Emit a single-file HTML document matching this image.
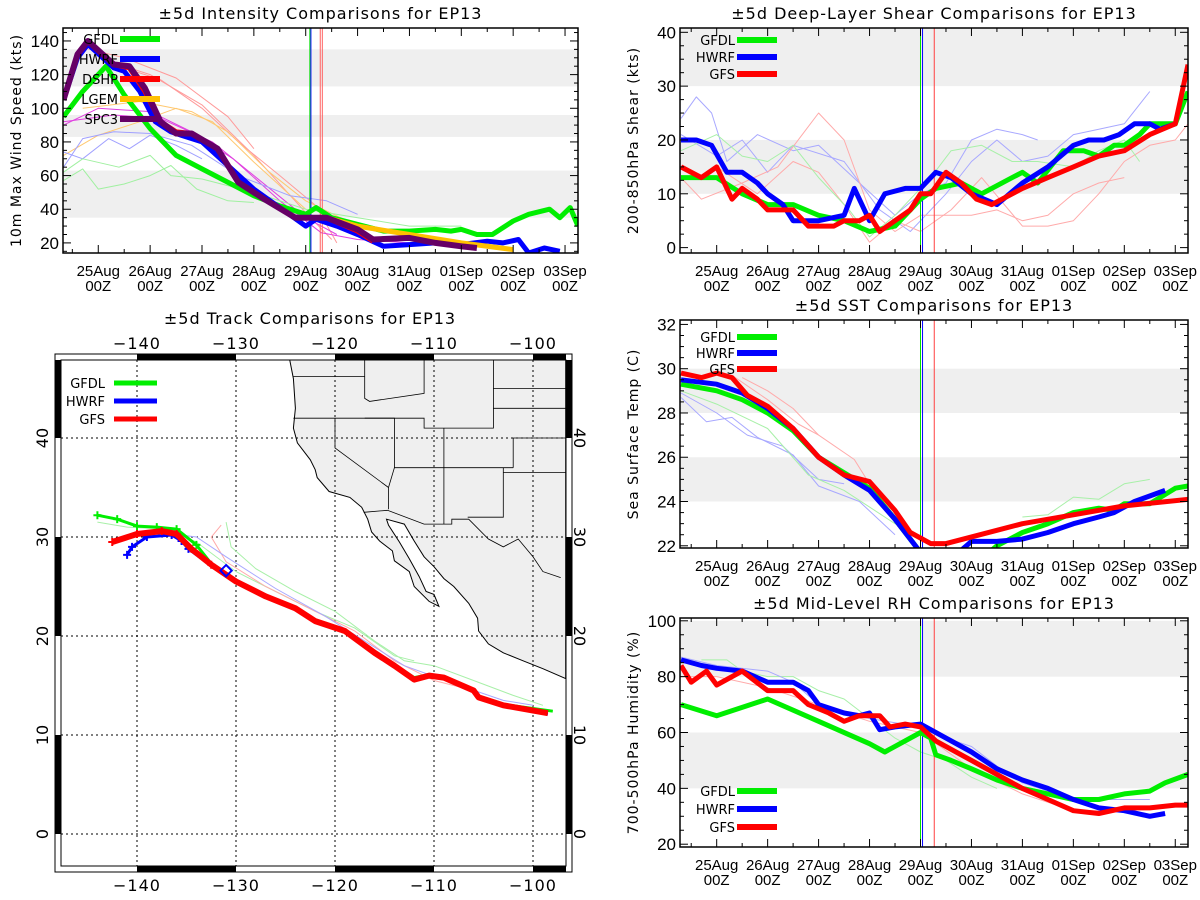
<!DOCTYPE html>
<html><head><meta charset="utf-8"><style>
html,body{margin:0;padding:0;background:#fff;}
svg{display:block;font-family:"DejaVu Sans","Liberation Sans",sans-serif;}
.ttl{letter-spacing:1px;}
.lib{font-family:"Liberation Sans",sans-serif;}
</style></head><body>
<svg id="fig" width="1200" height="900" viewBox="0 0 1200 900" xmlns="http://www.w3.org/2000/svg"></svg>
<script>
// ---------- DATA ----------
const dayTicks = ["25Aug","26Aug","27Aug","28Aug","29Aug","30Aug","31Aug","01Sep","02Sep","03Sep"];
const intGFDL = [[-0.67,95],[-0.3,110],[0.15,125],[0.5,108],[1,88],[1.5,72],[2,64],[3,48],[3.5,42],[4,37],[4.2,41],[4.5,35],[5,31],[5.5,27],[6,27],[6.5,28],[6.8,27],[7,28],[7.3,25],[7.6,25],[8,33],[8.3,37],[8.7,40],[8.9,35],[9.1,41],[9.25,30]];
const intHWRF = [[-0.67,105],[-0.4,130],[-0.2,138],[0.3,124],[0.5,122],[0.8,110],[1.1,92],[1.4,86],[1.6,84],[2,80],[2.5,66],[3,52],[3.5,41],[4,30],[4.2,34],[4.6,30],[5,25],[5.5,18],[6,19],[6.5,20],[7,19],[7.5,21],[7.8,20],[8.1,22],[8.3,14],[8.6,17],[8.9,15]];
const intDSHP = [[-0.67,105],[-0.4,132],[-0.2,140],[0.3,126],[0.6,124],[0.9,110],[1.2,92],[1.5,86],[1.8,85],[2.3,76],[2.7,56],[3.2,46],[3.8,35],[4.4,35],[5,27],[5.3,21]];
const intLGEM = [[4.4,35],[5,30],[6,25],[7,20],[8,16]];
const intSPC3 = [[-0.67,105],[-0.4,132],[-0.2,140],[0.3,126],[0.6,125],[0.9,112],[1.2,92],[1.5,85],[1.8,85],[2.3,76],[2.7,56],[3.2,46],[3.8,35],[4.4,35],[5,28],[5.3,22],[6,23],[6.5,20],[7,18],[7.3,17]];
const intThin = [
 ["#ff9a9a",[[-0.3,136],[0.5,130],[1,124],[1.5,118],[2.5,95],[3,76]]],
 ["#ff9a9a",[[0,132],[0.5,124],[1.2,117],[2,100],[2.7,80],[3.5,60],[4.2,42],[4.6,20]]],
 ["#ff9a9a",[[0.2,128],[1,120],[2,102],[3,72],[4,38],[4.5,22]]],
 ["#ffc870",[[-0.67,72],[0,84],[0.8,92],[1.5,100],[2.2,92],[3,68],[4,40]]],
 ["#ffc870",[[-0.3,100],[0.8,104],[1.8,98],[2.5,86],[3.3,62],[4,45],[5,30]]],
 ["#e040e0",[[-0.67,90],[0,100],[1,98],[1.8,86],[2.6,70],[3.5,45],[4.3,26],[5,22],[6,20]]],
 ["#e040e0",[[-0.67,92],[0.3,96],[1.2,94],[2.2,80],[3,60],[4,35],[4.6,25]]],
 ["#a0a0ff",[[-0.67,65],[-0.3,82],[0.3,86],[1,85],[1.8,78],[2.7,60],[3.7,48],[4.4,45],[5,37]]],
 ["#a0a0ff",[[-0.67,74],[-0.3,70],[0.2,82],[0.6,76],[1,84],[1.5,78],[2,70]]],
 ["#a0f0a0",[[-0.67,57],[-0.3,64],[0,52],[0.5,55],[1,60],[1.4,66],[1.9,52],[2.5,45],[3,44]]],
 ["#a0f0a0",[[-0.67,62],[-0.3,70],[0.4,65],[1,72],[1.4,60],[2,58],[3,50],[4,40],[5,35],[6,30],[7,30]]]
];
const shGFDL = [[-0.7,13],[-0.3,13],[0,13],[0.5,10],[1,8],[1.5,8],[2,6],[2.5,5],[3,3],[3.5,4],[4,9],[4.3,11],[4.8,12],[5.2,10],[5.8,13],[6,14],[6.3,12],[6.8,18],[7.2,18],[7.5,17],[7.8,19],[8,19],[8.3,21],[8.5,23],[9,23],[9.25,29]];
const shHWRF = [[-0.7,20],[-0.4,20],[-0.1,19],[0.2,14],[0.5,14],[0.8,12],[1,10],[1.3,8],[1.5,5],[2,5],[2.5,6],[2.7,11],[3,5],[3.3,10],[3.7,11],[4,11],[4.3,14],[4.6,13],[5,10],[5.5,8],[6,12],[6.5,15],[7,19],[7.3,20],[7.6,20],[7.9,21],[8.2,23],[8.5,23],[8.7,22],[9,23]];
const shGFS = [[-0.7,15],[-0.3,13],[0,15],[0.3,9],[0.5,11],[0.8,9],[1,7],[1.5,7],[1.8,4],[2.3,4],[2.5,5],[2.8,5],[3,6],[3.2,3],[3.5,5],[3.8,7],[4,10],[4.2,10],[4.5,14],[4.8,12],[5.1,9],[5.4,8],[6,11],[6.5,13],[7,15],[7.5,17],[8,18],[8.5,21],[9,23],[9.25,34]];
const shThin = [
 ["#a8a8ff",[[-0.7,24],[-0.4,28],[-0.1,25],[0.2,16],[0.8,21],[1.5,18],[2,19],[2.8,12],[3.5,6],[4,10],[4.5,12],[5,20],[5.5,22],[6,21],[6.3,20]]],
 ["#a8a8ff",[[-0.7,21],[0,17],[0.5,20],[1,14],[1.5,19],[2.5,16],[3.2,7],[3.8,3],[4.5,10],[5,16],[5.5,20],[6,16],[6.5,17],[7,21],[7.5,22],[8,23],[8.5,29]]],
 ["#ffaaaa",[[-0.7,13],[-0.3,9],[0.5,12],[1.2,15],[2,25],[2.5,20],[3,7],[3.5,3],[4,6],[5,6],[5.5,7],[6,5],[6.5,6],[7,10],[7.5,12],[8,13]]],
 ["#ffaaaa",[[0,15],[0.8,10],[1.5,16],[2,14],[2.5,8],[3,1],[3.5,5],[4,3],[4.6,7],[5.2,13],[6,4],[6.5,4],[7,5],[7.5,10],[8,16],[8.5,19],[9,20],[9.25,23]]],
 ["#a8f0a8",[[-0.7,18],[0,21],[0.5,17],[1,16],[1.5,19],[2,13],[2.6,7],[3,2],[3.5,6],[4.2,13],[4.6,18],[5.2,19],[5.8,16],[6.3,16],[7,15],[7.5,18],[8,20],[8.3,16]]]
];
const sstGFDL = [[-0.7,29.3],[0,29.0],[0.5,28.6],[1,28.0],[1.5,27.2],[2,26.0],[2.5,25.3],[3,24.6],[3.5,23.2],[4.0,21.7]];
const sstGFDL2 = [[5.4,21.8],[5.5,22.0],[6,22.6],[6.5,23.0],[7,23.5],[7.5,23.7],[7.8,23.6],[8,23.9],[8.5,23.9],[9,24.6],[9.25,24.7]];
const sstHWRF = [[-0.7,29.5],[0,29.3],[0.5,28.9],[1,28.2],[1.5,27.3],[2,26.0],[2.5,25.2],[3,24.5],[3.5,23.2],[4.0,21.7]];
const sstHWRF2 = [[4.8,21.8],[5,22.2],[5.5,22.2],[6,22.3],[6.5,22.6],[7,23.0],[7.5,23.3],[7.8,23.5],[8.2,24.0],[8.8,24.5]];
const sstGFS = [[-0.7,29.8],[-0.3,29.6],[0,29.8],[0.3,29.6],[0.6,28.8],[1,28.3],[1.5,27.3],[2,26.0],[2.5,25.2],[3,24.9],[3.5,23.6],[3.8,22.6],[4.2,22.1],[4.5,22.1],[5,22.4],[5.5,22.7],[6,23.0],[7,23.4],[8,23.8],[9.25,24.1]];
const sstThin = [
 ["#ffaaaa",[[0.5,29.6],[1,29.0],[1.5,28.2],[2,27.0],[2.7,25.9],[3,24.8]]],
 ["#ffaaaa",[[0.3,29.7],[1,28.6],[1.6,27.5],[2,27.0]]],
 ["#a8a8ff",[[-0.7,28.7],[-0.2,27.6],[0.3,27.8],[0.8,26.9],[1.5,26.1],[2,24.7],[2.8,24.0],[3.5,22.5]]],
 ["#a8a8ff",[[-0.7,28.9],[0,28.0],[0.6,27.0],[1.3,26.5],[2,25.0],[2.5,24.8]]],
 ["#a8f0a8",[[-0.7,29.0],[0,28.4],[1,27.3],[1.8,25.2],[2.5,24.5],[3.5,23.0],[4,22.4]]],
 ["#a8f0a8",[[6,23.3],[6.5,23.4],[7,24.2],[7.5,24.1],[8,24.8],[8.5,25.0]]]
];
const rhGFDL = [[-0.7,70],[0,66],[1,72],[2,64],[3,56],[3.3,53],[4,60],[4.2,58],[4.3,52],[4.6,50],[5,47],[5.5,43],[6,40],[6.5,38],[7,36],[7.5,36],[8,38],[8.5,39],[8.8,42],[9.25,45]];
const rhHWRF = [[-0.7,86],[-0.3,84],[0,83],[0.5,82],[1,78],[1.5,78],[1.8,75],[2,70],[2.5,67],[2.8,66],[3,67],[3.2,61],[3.5,62],[4,63],[4.5,58],[5,53],[5.5,47],[6,43],[6.5,40],[7,36],[7.5,33],[8,32],[8.5,30],[8.8,31]];
const rhGFS = [[-0.7,84],[-0.5,78],[-0.2,82],[0,77],[0.5,82],[1,75],[1.5,75],[1.8,70],[2.2,67],[2.5,64],[2.8,66],[3.2,66],[3.4,62],[3.7,63],[4,62],[4.3,57],[4.6,54],[5,50],[5.5,45],[6,40],[6.5,36],[7,32],[7.5,31],[8,33],[8.5,33],[9,34],[9.25,34]];
const rhThin = [
 ["#a8f0a8",[[-0.3,86],[0.2,86],[0.5,82],[1,80],[1.5,80],[2,75],[2.5,72],[3,65],[3.5,58],[4,53],[4.5,50],[5,44],[5.5,40]]],
 ["#a8a8ff",[[-0.7,87],[0,84],[1,82],[1.5,78],[2,70],[3,65],[4,62],[4.5,58],[5,55],[5.5,48],[6,42],[7,36],[8,36],[8.5,36]]],
 ["#ffaaaa",[[-0.7,80],[0,80],[1,76],[2,70],[3,64],[4,60],[5,47],[6,38],[7,32],[8,32]]]
];
const trGFS = [[-142.5,29.5],[-140,30.3],[-137.5,30.6],[-136,30.3],[-134.5,28.8],[-132.5,27.2],[-130,25.5],[-127,24.0],[-124,22.8],[-122,21.5],[-119,20.5],[-116,18.3],[-114,17.0],[-112,15.6],[-110.5,16.0],[-109,15.8],[-106,14.5],[-105.5,13.8],[-103,13.0],[-98.5,12.2]];
const trGFDL = [[-144,32.2],[-142,31.8],[-140,31.1],[-138,31.0],[-136,30.8],[-134,29.2],[-132.5,27.3],[-130,25.6],[-127,24.1],[-124,22.9],[-122,21.6],[-119,20.6],[-116,18.4],[-114,17.1],[-112,15.8],[-110.5,16.1],[-109,15.9],[-106,14.6],[-105.5,13.9],[-103,13.1],[-98,12.4]];
const trHWRF = [[-141,28.2],[-140.5,29.0],[-139,30.0],[-136.5,30.2],[-135.5,29.6],[-134.8,28.8],[-132.5,27.1],[-130,25.4],[-127,23.9],[-124,22.7],[-122,21.4],[-119,20.4],[-116,18.2],[-114,16.9],[-112,15.5],[-110.5,15.9],[-109,15.7],[-106,14.4],[-105.5,13.7],[-103,12.9],[-98.5,12.1]];
const trThin = [
 ["#a8f0a8",[[-131,31.5],[-130.5,29],[-128,26.8],[-124,24.5],[-120,22.5],[-116,19.5],[-113,17.5],[-110,17],[-106,15.5],[-102,14],[-99,13]]],
 ["#a8f0a8",[[-144,31.5],[-141,31],[-137,30.8],[-134,29.5],[-130,26.5],[-126,24.5],[-122,22.5],[-118,20.8],[-114,18],[-112,17.5]]],
 ["#ffaaaa",[[-131.5,31.2],[-132.5,30],[-131,27.5],[-127,25],[-122,22.5],[-118,20.5],[-114,17.5],[-110,15.5],[-106,14.5]]],
 ["#a8a8ff",[[-138,30.5],[-134,30],[-131,28],[-126,24.8],[-121,22],[-117,19.5],[-113,17],[-108,15.2],[-103,13.5],[-100,13]]]
];
const coast = [[-96.7,48],[-124.6,48],[-124.2,46],[-124,43],[-124.2,41],[-123.8,39.5],[-122.5,37.8],[-122,36.8],[-121.8,36],[-120.6,34.6],[-118.5,34],[-117.3,33],[-116.7,31.8],[-116.3,30.5],[-115.5,29.6],[-114.2,28.6],[-114,27.6],[-112.5,26.5],[-112,25],[-110.5,23.5],[-109.5,23],[-110,24.2],[-110.8,24.5],[-111.5,26],[-112.5,27.8],[-113.5,29.5],[-114.6,31.2],[-114.8,31.8],[-113,31.3],[-112,29.6],[-111,28],[-110,27],[-109,25.8],[-108,25],[-106.5,23.3],[-105.6,21.8],[-105.5,20.5],[-104.5,19.2],[-103,18.3],[-101,17.5],[-99,16.7],[-96.7,15.7]];
const borders = [
 [[-124.2,46.2],[-117,46.2]],[[-117,49],[-117,44],[-116.5,43.7],[-111,44.5],[-111,49]],
 [[-124.2,42],[-111,42],[-111,41],[-104,41],[-104,49]],[[-120,42],[-120,39],[-114.6,35],[-114.6,32.8]],
 [[-117,42],[-114,42],[-114,37],[-114.6,35]],[[-114,37],[-102,37]],[[-109,41],[-109,31.3]],
 [[-103,37],[-103,32],[-106.6,32]],[[-117.1,32.5],[-114.7,32.7],[-111,31.3],[-108.2,31.3],[-108.2,31.8],[-106.5,31.8],[-104.5,29.8],[-103,29],[-101.5,29.8],[-100,28],[-99,26.5],[-97.2,25.9]],
 [[-102,37],[-102,40],[-96.7,40]],[[-104,45],[-96.7,45]],[[-104,43],[-96.7,43]],[[-103,36.5],[-96.7,36.5]]
];

// ---------- HELPERS ----------
const svg = document.getElementById('fig');
const NS = "http://www.w3.org/2000/svg";
function mk(tag, attrs, parent){ const e=document.createElementNS(NS,tag); for(const k in attrs) e.setAttribute(k,attrs[k]); (parent||svg).appendChild(e); return e; }
function txt(s, x, y, size, anchor, parent, rot){ const t=mk('text',{x:x,y:y,'font-size':size,'text-anchor':anchor||'middle',fill:'#000'},parent); if(rot) t.setAttribute('transform',`rotate(${rot} ${x} ${y})`); t.textContent=s; return t; }

function timePanel(cfg){
  const g = mk('g',{});
  
  
  const {L,R,T,B,t0,t1,y0,y1} = cfg;
  const X = t => L + (t - t0)/(t1 - t0)*(R-L);
  const Y = v => B - (v - y0)/(y1 - y0)*(B-T);
  const clipId = 'c'+cfg.name;
  const cp = mk('clipPath',{id:clipId},g); mk('rect',{x:L,y:T,width:R-L,height:B-T},cp);
  cfg.bands.forEach(b=>{ const r=mk('rect',{x:L,y:Y(b[1]),width:R-L,height:Y(b[0])-Y(b[1]),fill:'#efefef'},g);
      });
  const pg = mk('g',{'clip-path':`url(#${clipId})`},g);
  const line=(pts,col,w,nm)=>{ const p=mk('polyline',{points:pts.map(q=>X(q[0]).toFixed(1)+','+Y(q[1]).toFixed(1)).join(' '),fill:'none',stroke:col,'stroke-width':w,'stroke-linejoin':'round'},pg);
      };
  cfg.thin.forEach(s=>line(s[1],s[0],1,'ensemble-line'));
  cfg.vlines.forEach(v=>{ const l=mk('line',{x1:X(v[0]),x2:X(v[0]),y1:T,y2:B,stroke:v[1],'stroke-width':1},pg);
      });
  cfg.series.forEach(s=>s[2].forEach(pts=>line(pts,s[1],s[3]||5,'series-'+s[0].toLowerCase())));
  const f=mk('rect',{x:L,y:T,width:R-L,height:B-T,fill:'none',stroke:'#000','stroke-width':1.5},g);
   
  for(let v=cfg.yt0; v<=y1; v+=cfg.ytStep){ const y=Y(v);
    mk('line',{x1:L,x2:L+8,y1:y,y2:y,stroke:'#000'},g); mk('line',{x1:R,x2:R-8,y1:y,y2:y,stroke:'#000'},g);
    const t=txt(String(v),L-4,y+6,17,'end',g); t.setAttribute('class','lib');  
    for(let k=1;k<4;k++){ const mv=v+k*cfg.ytStep/4; if(mv>y1) break; const my=Y(mv);
      mk('line',{x1:L,x2:L+4,y1:my,y2:my,stroke:'#000'},g); mk('line',{x1:R,x2:R-4,y1:my,y2:my,stroke:'#000'},g);} }
  for(let v=cfg.yt0-cfg.ytStep/4; v>y0; v-=cfg.ytStep/4){ const my=Y(v); mk('line',{x1:L,x2:L+4,y1:my,y2:my,stroke:'#000'},g); mk('line',{x1:R,x2:R-4,y1:my,y2:my,stroke:'#000'},g);}
  for(let h=Math.ceil(t0*2); h<=t1*2; h++){ const x=X(h/2); const len=h%2===0?8:4;
    mk('line',{x1:x,x2:x,y1:B,y2:B-len,stroke:'#000'},g); mk('line',{x1:x,x2:x,y1:T,y2:T+len,stroke:'#000'},g); }
  dayTicks.forEach((d,i)=>{ const x=X(i);
    const a=txt(d,x,B+23,15,'middle',g); a.setAttribute('class','lib');  
    const b=txt('00Z',x,B+38,15,'middle',g); b.setAttribute('class','lib');   });
  const tt=txt(cfg.title,(L+R)/2,T-9,16,'middle',g); tt.setAttribute('class','ttl');  
  const yl=txt(cfg.ylabel,L-42,(T+B)/2,14,'middle',g,-90); yl.setAttribute('class','ttl');  
  cfg.series.forEach((s,i)=>{ const ly=cfg.legY+i*cfg.legDy;
    const lg=mk('g',{},g);  
    mk('line',{x1:cfg.legX+42,x2:cfg.legX+82,y1:ly,y2:ly,stroke:s[1],'stroke-width':6},lg);
    txt(s[0],cfg.legX+40,ly+5,13,'end',lg); });
}

timePanel({name:'intensity-chart',L:63,R:578,T:28,B:253,t0:-0.68,t1:9.25,y0:14,y1:147.7,yt0:20,ytStep:20,
  bands:[[35,63],[83,96],[113,135]],thin:intThin,vlines:[[4.08,'#00dd00'],[4.1,'#0000ff'],[4.28,'#ff6060'],[4.32,'#ff6060']],
  series:[['GFDL','#00ee00',[intGFDL]],['HWRF','#0000ff',[intHWRF]],['DSHP','#ff0000',[intDSHP]],['LGEM','#ffc000',[intLGEM]],['SPC3','#660066',[intSPC3],6]],
  title:'±5d Intensity Comparisons for EP13',ylabel:'10m Max Wind Speed (kts)',legX:78,legY:39,legDy:20});
timePanel({name:'shear-chart',L:680,R:1188,T:28,B:253,t0:-0.72,t1:9.25,y0:-1,y1:40.8,yt0:0,ytStep:10,
  bands:[[10,20],[30,40.8]],thin:shThin,vlines:[[4.0,'#00dd00'],[4.04,'#0000ff'],[4.27,'#ff4040']],
  series:[['GFDL','#00ee00',[shGFDL]],['HWRF','#0000ff',[shHWRF]],['GFS','#ff0000',[shGFS]]],
  title:'±5d Deep-Layer Shear Comparisons for EP13',ylabel:'200-850hPa Shear (kts)',legX:695,legY:40,legDy:17});
timePanel({name:'sst-chart',L:680,R:1188,T:320,B:548,t0:-0.72,t1:9.25,y0:21.9,y1:32.2,yt0:22,ytStep:2,
  bands:[[24,26],[28,30]],thin:sstThin,vlines:[[4.0,'#00dd00'],[4.04,'#0000ff'],[4.27,'#ff4040']],
  series:[['GFDL','#00ee00',[sstGFDL,sstGFDL2]],['HWRF','#0000ff',[sstHWRF,sstHWRF2]],['GFS','#ff0000',[sstGFS]]],
  title:'±5d SST Comparisons for EP13',ylabel:'Sea Surface Temp (C)',legX:695,legY:337,legDy:16});
timePanel({name:'rh-chart',L:680,R:1188,T:618,B:847,t0:-0.72,t1:9.25,y0:19,y1:101,yt0:20,ytStep:20,
  bands:[[40,60],[80,100]],thin:rhThin,vlines:[[4.0,'#00dd00'],[4.04,'#0000ff'],[4.27,'#ff4040']],
  series:[['GFDL','#00ee00',[rhGFDL]],['HWRF','#0000ff',[rhHWRF]],['GFS','#ff0000',[rhGFS]]],
  title:'±5d Mid-Level RH Comparisons for EP13',ylabel:'700-500hPa Humidity (%)',legX:695,legY:791,legDy:18});

(function(){
  const g=mk('g',{});  
  const L=61,R=566,T=360,B=866;
  const X=lon=>137+(lon+140)*9.9, Y=lat=>834-lat*9.9;
  const cp=mk('clipPath',{id:'mapclip'},g); mk('rect',{x:L,y:T,width:R-L,height:B-T},cp);
  const mg=mk('g',{'clip-path':'url(#mapclip)'},g);
  const pl=(pts)=>pts.map(p=>X(p[0]).toFixed(1)+','+Y(p[1]).toFixed(1)).join(' ');
  const land=mk('polygon',{points:pl(coast),fill:'#efefef',stroke:'#000','stroke-width':1},mg);
   
  borders.forEach(b=>{ const e=mk('polyline',{points:pl(b),fill:'none',stroke:'#000','stroke-width':0.8},mg);
      });
  for(let lon=-140;lon<=-100;lon+=10) mk('line',{x1:X(lon),x2:X(lon),y1:T,y2:B,stroke:'#000','stroke-dasharray':'2,3','stroke-width':1},mg);
  for(let lat=0;lat<=40;lat+=10) mk('line',{x1:L,x2:R,y1:Y(lat),y2:Y(lat),stroke:'#000','stroke-dasharray':'2,3','stroke-width':1},mg);
  trThin.forEach(s=>{ const e=mk('polyline',{points:pl(s[1]),fill:'none',stroke:s[0],'stroke-width':1},mg);
      });
  [['GFDL','#00ee00',trGFDL,3],['HWRF','#0000ff',trHWRF,3],['GFS','#ff0000',trGFS,6]].forEach(s=>{
    const e=mk('polyline',{points:pl(s[2]),fill:'none',stroke:s[1],'stroke-width':s[3],'stroke-linejoin':'round'},mg);
     
    s[2].slice(0,6).forEach(p=>{ const x=X(p[0]),y=Y(p[1]); mk('path',{d:`M${x-4},${y}H${x+4}M${x},${y-4}V${y+4}`,stroke:s[1],'stroke-width':2},mg); });
  });
  const dm=mk('rect',{x:X(-131)-4,y:Y(26.6)-4,width:8,height:8,fill:'none',stroke:'#0000ff','stroke-width':2,transform:`rotate(45 ${X(-131)} ${Y(26.6)})`},mg);
   
  mk('rect',{x:55,y:354,width:517,height:518,fill:'none',stroke:'#000','stroke-width':1},g);
  mk('rect',{x:L,y:T,width:R-L,height:B-T,fill:'none',stroke:'#000','stroke-width':1},g);
  for(let lon=-150;lon<-95;lon+=10){ if(((lon+150)/10)%2===1){
    const x1=Math.max(L,X(lon)),x2=Math.min(R,X(lon+10));
    mk('rect',{x:x1,y:354,width:x2-x1,height:6,fill:'#000'},g); mk('rect',{x:x1,y:866,width:x2-x1,height:6,fill:'#000'},g);} }
  [[40,50],[20,30],[0,10]].forEach(r=>{ const y1=Math.max(T,Y(r[1])),y2=Math.min(B,Y(r[0]));
    mk('rect',{x:55,y:y1,width:6,height:y2-y1,fill:'#000'},g); mk('rect',{x:566,y:y1,width:6,height:y2-y1,fill:'#000'},g); });
  for(let lon=-140;lon<=-100;lon+=10){
    const a=txt('−'+(-lon),X(lon),349,16,'middle',g); a.setAttribute('class','ttl');  
    const b=txt('−'+(-lon),X(lon),891,16,'middle',g); b.setAttribute('class','ttl');   }
  for(let lat=0;lat<=40;lat+=10){
    const a=txt(String(lat),48,Y(lat),16,'middle',g,-90);  
    const b=txt(String(lat),574,Y(lat),16,'middle',g,90);   }
  const tt=txt('±5d Track Comparisons for EP13',310,324,16,'middle',g); tt.setAttribute('class','ttl');  
  [['GFDL','#00ee00'],['HWRF','#0000ff'],['GFS','#ff0000']].forEach((s,i)=>{ const ly=383+i*18;
    const lg=mk('g',{},g);  
    mk('line',{x1:114,x2:157,y1:ly,y2:ly,stroke:s[1],'stroke-width':5},lg); txt(s[0],105,ly+5,13,'end',lg); });
})();
</script>
</body></html>
